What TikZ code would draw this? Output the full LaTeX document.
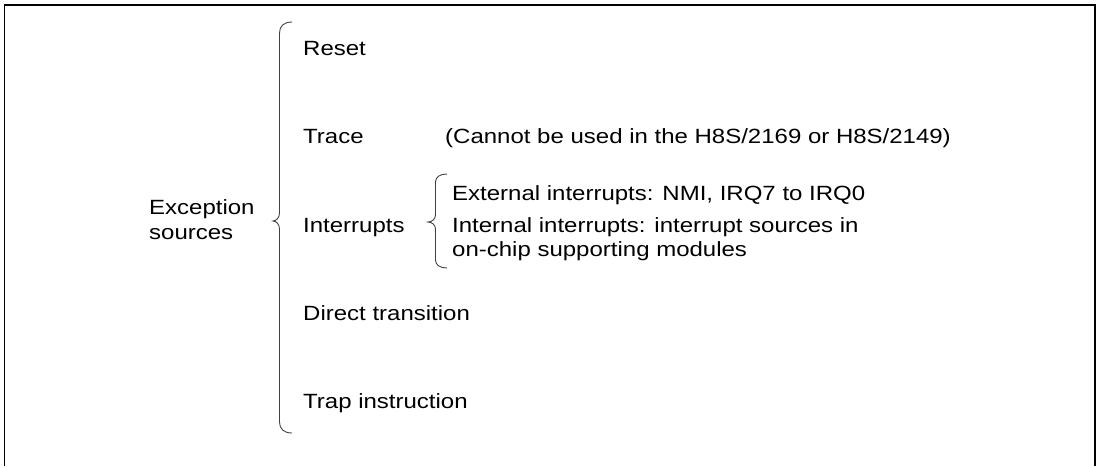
\documentclass[tikz,border=0pt]{standalone}
\usepackage{fontspec}
\setmainfont{Liberation Sans}[FakeStretch=1.165]
\begin{document}
\begin{tikzpicture}[x=1pt,y=-1pt,
  lbl/.style={anchor=base west,inner sep=0pt,font=\fontsize{20.6}{24.5}\selectfont},
  framebox/.style={line width=1.8pt,black},
  bracepath/.style={line width=0.9pt,black!75}]
\useasboundingbox (0,0) rectangle (1100,466);
\draw[framebox] (4.5,466) -- (4.5,5) -- (1095,5) -- (1095,466);
% labels
\node[lbl] (exc1) at (149,214) {Exception};
\node[lbl] (exc2) at (149,239) {sources};
\node[lbl] (reset) at (303,55) {Reset};
\node[lbl] (trace) at (303,143) {Trace};
\node[lbl] (note) at (445,143) {(Cannot be used in the H8S/2169 or H8S/2149)};
\node[lbl] (intr) at (303,232) {Interrupts};
\node[lbl] (ext) at (452,200) {External interrupts: NMI, IRQ7 to IRQ0};
\node[lbl] (int1) at (452,232) {Internal interrupts: interrupt sources in};
\node[lbl] (int2) at (452,256) {on-chip supporting modules};
\node[lbl] (direct) at (303,320) {Direct transition};
\node[lbl] (trap) at (303,408) {Trap instruction};
% big brace
\draw[bracepath] (292,22) .. controls (284,22) and (279.5,26) .. (279.5,33)
  -- (279.5,213) .. controls (279.5,218) and (276,221) .. (273,221)
  .. controls (276,221) and (279.5,224) .. (279.5,229)
  -- (279.5,422) .. controls (279.5,429) and (284,433) .. (292,433);
% small brace
\draw[bracepath] (447,174) .. controls (440,174) and (435.5,177) .. (435.5,182)
  -- (435.5,215) .. controls (435.5,219) and (432,222) .. (428,222)
  .. controls (432,222) and (435.5,225) .. (435.5,229)
  -- (435.5,260) .. controls (435.5,265) and (440,268) .. (447,268);
\end{tikzpicture}
\end{document}
